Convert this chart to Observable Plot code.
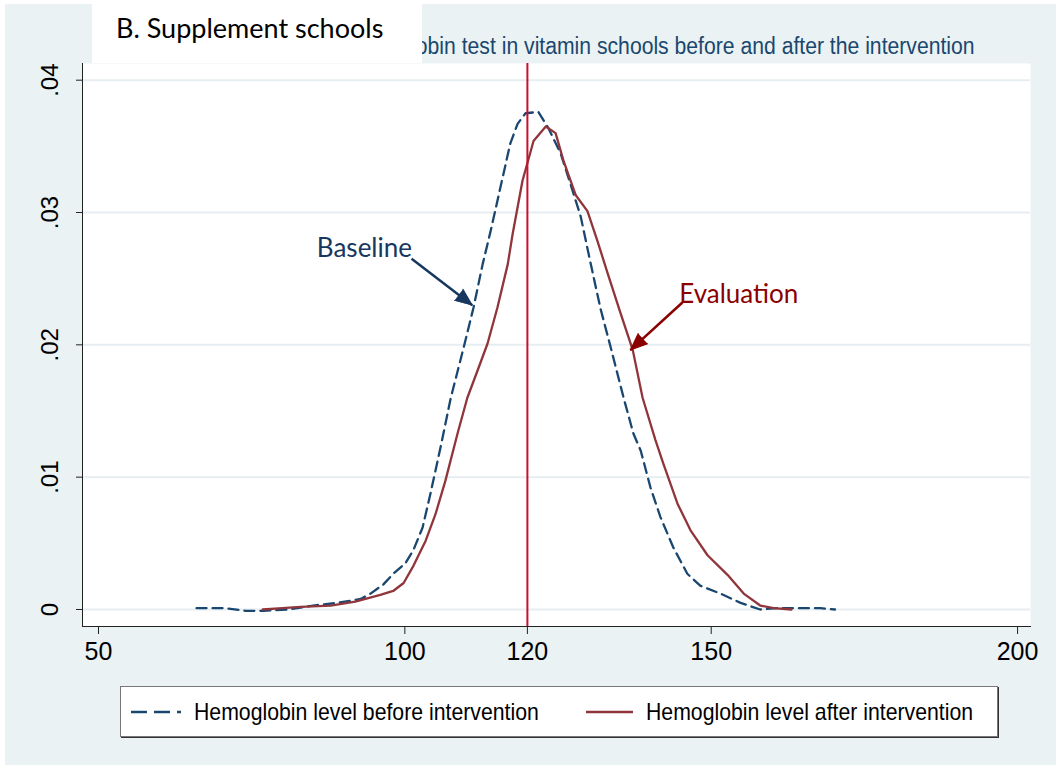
<!DOCTYPE html>
<html><head><meta charset="utf-8">
<script src="https://cdn.jsdelivr.net/npm/d3@7"></script>
<script src="https://cdn.jsdelivr.net/npm/@observablehq/plot@0.6"></script>
<style>
html,body{margin:0;padding:0;background:#fff;}
#wrap{position:absolute;left:5px;top:4px;width:1051px;height:761px;background:#eaf2f3;overflow:hidden;}
#chart{position:absolute;left:0;top:0;}
#title{position:absolute;right:81px;top:30px;font-family:"Liberation Sans",Arial,sans-serif;font-size:23px;line-height:24px;color:#1a476f;white-space:nowrap;transform:scaleX(0.92);transform-origin:right center;}
#panel{position:absolute;left:92px;top:0;width:330px;height:63px;background:#fff;font-family:Lato,"Open Sans",sans-serif;font-size:27px;line-height:30px;color:#000;box-sizing:border-box;padding:13px 0 0 24px;white-space:nowrap;z-index:5;}
#legend{position:absolute;left:115px;top:682px;width:878px;height:51px;background:#fff;border:1px solid #777;box-shadow:1px 1px 0 #333;box-sizing:border-box;font-family:"Liberation Sans",Arial,sans-serif;font-size:24px;color:#000;}
.item{position:absolute;top:0;height:49px;display:flex;align-items:center;white-space:nowrap;}
.item svg{margin-right:13px;flex:none;}
.item span{display:inline-block;transform:scaleX(0.885);transform-origin:left center;}
</style></head><body>
<div id="wrap">
  <div id="title"></div>
  <div id="chart"></div>
  <div id="legend"></div>
</div>
<div id="panel"></div>
<script>
// ---- data ----
const titleText = "Hemoglobin test in vitamin schools before and after the intervention";
const panelText = "B. Supplement schools";
const seriesNames = ["Hemoglobin level before intervention", "Hemoglobin level after intervention"];

const baseX = [66, 70.5, 74, 77, 81, 85, 89, 92.8, 94.4, 96.5, 98.1, 100.1, 101.4, 102.9, 104.2, 105.8, 107.5, 109.6, 111.2, 112.7, 114.0, 115.6, 117.2, 118.4, 119.7, 121.8, 123.4, 125.4, 127.0, 128.7, 130.3, 131.9, 133.6, 135.7, 137.3, 138.5, 140.1, 141.7, 143.8, 146.1, 148.2, 151.5, 154.8, 158.0, 160.8, 164.1, 167.8, 170.2];
const baseY = [0.0001, 0.0001, -0.0001, -0.0001, 0.0000, 0.0003, 0.0005, 0.0008, 0.0012, 0.0019, 0.0027, 0.0035, 0.0045, 0.0062, 0.0088, 0.0122, 0.0160, 0.0198, 0.0228, 0.0261, 0.0286, 0.0319, 0.0352, 0.0367, 0.0375, 0.0376, 0.0364, 0.0345, 0.0322, 0.0297, 0.0262, 0.0228, 0.0198, 0.0160, 0.0133, 0.0120, 0.0092, 0.0070, 0.0047, 0.0027, 0.0018, 0.0012, 0.0005, 0.0000, 0.0001, 0.0001, 0.0001, 0.0000];

const evalX = [76.8, 80, 83, 87.9, 91.9, 96.0, 98.1, 99.8, 101.4, 103.4, 105.0, 106.6, 108.6, 110.2, 111.9, 113.5, 115.1, 116.8, 117.6, 119.2, 121.0, 123.0, 124.6, 125.9, 127.9, 129.8, 131.4, 133.1, 135.2, 137.2, 138.8, 140.9, 142.2, 144.5, 146.6, 149.4, 152.7, 155.3, 158.0, 160.2, 163.1];
const evalY = [0.0000, 0.0001, 0.0002, 0.0003, 0.0006, 0.0011, 0.0014, 0.0020, 0.0033, 0.0052, 0.0072, 0.0097, 0.0133, 0.0160, 0.0181, 0.0201, 0.0228, 0.0261, 0.0284, 0.0324, 0.0354, 0.0365, 0.0360, 0.0339, 0.0313, 0.0301, 0.0279, 0.0254, 0.0224, 0.0196, 0.0160, 0.0128, 0.0110, 0.0080, 0.0060, 0.0041, 0.0026, 0.0012, 0.0003, 0.0001, 0.0000];

const xTicks = [50, 100, 120, 150, 200];
const yTicks = [0, 0.01, 0.02, 0.03, 0.04];
const refX = [120];

const annLabels = ["Baseline", "Evaluation"];
const annX = [93.4, 154.5];
const annY = [0.0273, 0.0238];
const arrowX1 = [101.1, 145.3];
const arrowY1 = [0.0265, 0.0232];
const arrowX2 = [111.0, 136.8];
const arrowY2 = [0.0230, 0.0196];

// ---- styles ----
const navy = "#1a476f", maroon = "#90353b", refColor = "#c8102e";
const annColors = ["#17375e", "#8b0000"];
const sans = "'Liberation Sans',Arial,sans-serif";

const baseline = baseX.map((x, i) => ({x, y: baseY[i]}));
const evaluation = evalX.map((x, i) => ({x, y: evalY[i]}));
const anns = annLabels.map((t, i) => ({t, x: annX[i], y: annY[i], x1: arrowX1[i], y1: arrowY1[i], x2: arrowX2[i], y2: arrowY2[i], c: annColors[i]}));

const fmtY = d => d === 0 ? "0" : d3.format(".2f")(d).replace(/^0/, "");

const W = 1051, H = 680;
const ml = 77, mr = 26, mt = 59, mb = 58;
const xDom = [47.39, 202.11], yDom = [-0.001285, 0.04126];
const pxX = (W - ml - mr) / (xDom[1] - xDom[0]);
const pxY = (H - mt - mb) / (yDom[1] - yDom[0]);

function headMarks(a) {
  const dx = (a.x2 - a.x1) * pxX, dy = -(a.y2 - a.y1) * pxY;
  const ang = Math.atan2(dx, -dy) * 180 / Math.PI;
  return Plot.vector([a], {x: "x2", y: "y2", rotate: ang, length: 17, r: 7, shape: "spike", anchor: "end", fill: a.c, stroke: a.c, strokeWidth: 1});
}

const chart = Plot.plot({
  width: W, height: H,
  marginLeft: ml, marginRight: mr, marginTop: mt, marginBottom: mb,
  style: {background: "transparent", fontFamily: sans},
  x: {domain: xDom},
  y: {domain: yDom},
  marks: [
    Plot.frame({fill: "#fff", stroke: null}),
    Plot.gridY(yTicks, {stroke: "#e6eef1", strokeOpacity: 1, strokeWidth: 2}),
    Plot.axisY(yTicks, {tickSize: 6, tickFormat: () => "", stroke: "#222"}),
    Plot.text(yTicks, {y: d => d, text: fmtY, frameAnchor: "left", dx: -32, rotate: -90, textAnchor: "middle", lineAnchor: "middle", fontSize: 24, fill: "#000", fontFamily: sans}),
    Plot.axisX(xTicks, {tickSize: 8, tickPadding: 8, fontSize: 25, stroke: "#222", fill: "#000", fontFamily: sans}),
    Plot.frame({anchor: "left", stroke: "#222"}),
    Plot.frame({anchor: "bottom", stroke: "#222"}),
    Plot.line(baseline, {x: "x", y: "y", stroke: navy, strokeWidth: 2.3, strokeDasharray: "10,6"}),
    Plot.line(evaluation, {x: "x", y: "y", stroke: maroon, strokeWidth: 2.3}),
    Plot.ruleX(refX, {stroke: refColor, strokeWidth: 2}),
    Plot.link(anns, {x1: "x1", y1: "y1", x2: "x2", y2: "y2", stroke: "c", strokeWidth: 2.5}),
    ...anns.map(headMarks),
    Plot.text(anns, {x: "x", y: "y", text: "t", fill: "c", fontSize: 26, fontFamily: "Lato,'Open Sans',sans-serif"})
  ]
});
document.getElementById("chart").appendChild(chart);

document.getElementById("title").textContent = titleText;
document.getElementById("panel").textContent = panelText;

const leg = document.getElementById("legend");
const lefts = [10, 465];
const widths = [50, 47];
const styles = [{c: navy, dash: "16,7"}, {c: maroon, dash: null}];
seriesNames.forEach((name, i) => {
  const d = document.createElement("div");
  d.className = "item";
  d.style.left = lefts[i] + "px";
  const s = styles[i];
  d.innerHTML = `<svg width="${widths[i]}" height="10"><line x1="0" y1="5" x2="${widths[i]}" y2="5" stroke="${s.c}" stroke-width="2.3" ${s.dash ? `stroke-dasharray="${s.dash}"` : ""}/></svg><span>${name}</span>`;
  leg.appendChild(d);
});
</script>
</body></html>
